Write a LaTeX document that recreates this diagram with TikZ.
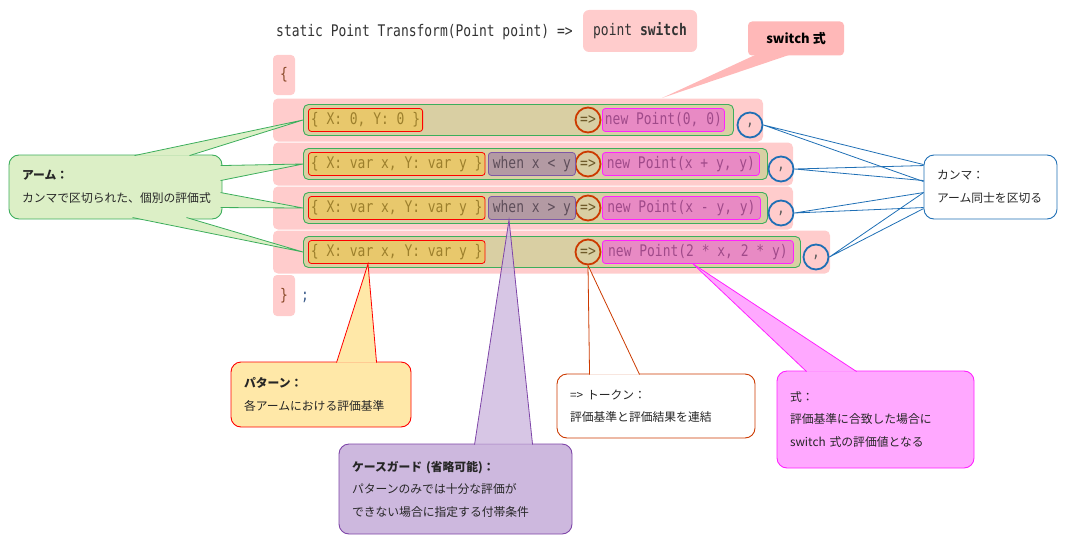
\documentclass[tikz,border=0pt]{standalone}
\usepackage{fontspec}
\usetikzlibrary{calc}
\setmainfont{Noto Sans CJK JP}
\newfontfamily\codefont[FakeStretch=0.81]{DejaVu Sans Mono}
\newcommand{\codefmt}{\codefont\fontsize{16}{18}\selectfont\frenchspacing}
\newcommand{\notefont}{\fontsize{11.8}{22.5}\selectfont}
\definecolor{bandpink}{HTML}{FFCCCC}
\definecolor{armtan}{HTML}{D9CFA3}
\definecolor{armgreen}{HTML}{3DAE5C}
\definecolor{patfill}{HTML}{E8C86C}
\definecolor{pattext}{HTML}{9C7F2C}
\definecolor{whenfill}{HTML}{B39AA3}
\definecolor{whenedge}{HTML}{7E57A6}
\definecolor{whentext}{HTML}{5E4E5A}
\definecolor{exprfill}{HTML}{E88AC4}
\definecolor{exprtext}{HTML}{A04A8A}
\definecolor{expredge}{HTML}{FF22FF}
\definecolor{tokred}{HTML}{CC3A00}
\definecolor{toktext}{HTML}{6E5A2A}
\definecolor{commablue}{HTML}{1F6FB5}
\definecolor{callpink}{HTML}{FFB8B8}
\definecolor{armnote}{HTML}{DCEFC6}
\definecolor{patnote}{HTML}{FFE8A8}
\definecolor{guardnote}{HTML}{CDB8DE}
\definecolor{guardedge}{HTML}{7E45A8}
\definecolor{exprnote}{HTML}{FFA8FF}
\definecolor{codegray}{HTML}{333333}
\definecolor{bracebrown}{HTML}{8B4A2A}
\definecolor{semiblue}{HTML}{3A5A8A}
\begin{document}
\begin{tikzpicture}[x=1pt, y=-1pt,
	band/.style={fill=bandpink, rounded corners=5},
	armbox/.style={draw=armgreen, fill=armtan, rounded corners=5, line width=0.9, minimum height=31, inner sep=0},
	patbox/.style={draw=red, fill=patfill, text=pattext, rounded corners=3, line width=0.8, minimum height=23, inner xsep=2.5, inner ysep=0, font=\codefmt},
	whenbox/.style={draw=whenedge, fill=whenfill, text=whentext, rounded corners=3, line width=0.8, minimum height=23, inner xsep=2.5, inner ysep=0, font=\codefmt},
	exprbox/.style={draw=expredge, fill=exprfill, text=exprtext, rounded corners=3, line width=0.8, minimum height=23, inner xsep=2.5, inner ysep=0, font=\codefmt},
	arrowtok/.style={circle, draw=tokred, line width=1.8, minimum size=25, inner sep=0, text=toktext, font=\codefmt},
	commatok/.style={circle, draw=commablue, line width=1.8, minimum size=25, inner sep=0, text=black!65, font=\codefmt},
	callout/.style={rounded corners=10, line width=0.9, align=left, inner xsep=13, inner ysep=0, text=black!85, font=\notefont}]
	\useasboundingbox (0,0) rectangle (1067,543);
	
	% Header line
	\node[anchor=west, inner sep=0, text=codegray, font=\codefmt] (sig) at (276,32) {static Point Transform(Point point) =>};
	\node[fill=bandpink, rounded corners=6, minimum width=114, minimum height=42, text=codegray, font=\codefmt] (subject) at (640,31) {point \textbf{switch}};
	\node[fill=callpink, rounded corners=4, minimum width=96, minimum height=34, font=\fontsize{13}{15}\selectfont\bfseries] (switchnote) at (796,38.5) {switch 式};
	\coordinate (bandtop) at (662,98);
	\fill[callpink] ($(switchnote.south west)+(8,-1)$) -- (bandtop) -- ($(switchnote.south west)+(42,-1)$) -- cycle;
	\node[fill=bandpink, rounded corners=4, minimum width=22, minimum height=40, text=bracebrown, font=\codefmt] (open) at (284,75) {\{};
	
	% Arms
	\foreach \n/\y/\bw/\aw/\cx in {1/120/763/430/750, 2/164/793/464/781, 3/208/793/464/781, 4/252/830/497/816} {
		\fill[band] (273,\y-21.5) rectangle (\bw,\y+21.5);
		\node[armbox, minimum width=\aw, anchor=west] (arm\n) at (303,\y) {};
		\node[arrowtok] (tok\n) at (588,\y) {=>};
		\node[commatok] (comma\n) at (\cx,\y+5) {,};
	}
	\node[patbox, anchor=west] (pat1) at (308,120) {\{ X: 0, Y: 0 \}};
	\node[patbox, anchor=west] (pat2) at (308,164) {\{ X: var x, Y: var y \}};
	\node[patbox, anchor=west] (pat3) at (308,208) {\{ X: var x, Y: var y \}};
	\node[patbox, anchor=west] (pat4) at (308,252) {\{ X: var x, Y: var y \}};
	\node[whenbox, anchor=west, minimum width=87] (when2) at (488,164) {when x < y};
	\node[whenbox, anchor=west, minimum width=87] (when3) at (488,208) {when x > y};
	\node[exprbox, anchor=west] (expr1) at (602,120) {new Point(0, 0)};
	\node[exprbox, anchor=west, minimum width=157] (expr2) at (602,164) {new Point(x + y, y)};
	\node[exprbox, anchor=west, minimum width=158] (expr3) at (602,208) {new Point(x - y, y)};
	\node[exprbox, anchor=west, minimum width=191] (expr4) at (602,252) {new Point(2 * x, 2 * y)};
	\node[fill=bandpink, rounded corners=4, minimum width=22, minimum height=41, text=bracebrown, font=\codefmt] (close) at (284,295.5) {\}};
	\node[text=semiblue, font=\codefmt] (semi) at (305,297) {;};
	
	% Arm note
	\node[callout, draw=armgreen, fill=armnote, minimum width=213, minimum height=64, text width=187] (armnote) at (115.5,187) {\textbf{アーム：}\\カンマで区切られた、個別の評価式};
	\foreach \n/\ax/\ay/\bx/\by in {1/126/1/181/1, 2/212/11/212/26, 3/212/38/212/53, 4/124/63/178/63} {
		\fill[armnote] ($(armnote.north west)+(\ax,\ay)$) -- (arm\n.west) -- ($(armnote.north west)+(\bx,\by)$) -- cycle;
		\draw[armgreen, line width=0.8] ($(armnote.north west)+(\ax,\ay)$) -- (arm\n.west) -- ($(armnote.north west)+(\bx,\by)$);
	}
	
	% Comma note
	\node[callout, draw=commablue, fill=white, minimum width=133, minimum height=64, text width=107] (commanote) at (990.5,187) {カンマ：\\アーム同士を区切る};
	\foreach \n/\ay/\by in {1/10/27, 2/11/26, 3/38/53, 4/38/54}
		\draw[commablue, line width=0.8] ($(commanote.north west)+(0,\ay)$) -- (comma\n.east) -- ($(commanote.north west)+(0,\by)$);
	
	% Pattern note
	\node[callout, draw=red, fill=patnote, minimum width=180, minimum height=65, text width=154] (patnote) at (321,394.5) {\textbf{パターン：}\\各アームにおける評価基準};
	\fill[patnote] ($(patnote.north west)+(106,1)$) -- ($(pat4.south west)+(60,0)$) -- ($(patnote.north west)+(146,1)$) -- cycle;
	\draw[red, line width=0.8] ($(patnote.north west)+(106,1)$) -- ($(pat4.south west)+(60,0)$) -- ($(patnote.north west)+(146,1)$);
	
	% Guard note
	\node[callout, draw=guardedge, fill=guardnote, minimum width=233, minimum height=90, text width=207] (guardnote) at (455.5,489) {\textbf{ケースガード (省略可能)：}\\パターンのみでは十分な評価が\\できない場合に指定する付帯条件};
	\fill[guardnote, fill opacity=0.8] ($(guardnote.north west)+(136,1)$) -- ($(when3.south west)+(21,0)$) -- ($(guardnote.north west)+(194,1)$) -- cycle;
	\draw[guardedge, line width=0.8] ($(guardnote.north west)+(136,1)$) -- ($(when3.south west)+(21,0)$) -- ($(guardnote.north west)+(194,1)$);
	
	% Token note
	\node[callout, draw=tokred, fill=white, minimum width=198, minimum height=64, text width=172] (toknote) at (656,406) {=> トークン：\\評価基準と評価結果を連結};
	\fill[white] ($(toknote.north west)+(33,1)$) -- (tok4.south) -- ($(toknote.north west)+(83,1)$) -- cycle;
	\draw[tokred, line width=0.8] ($(toknote.north west)+(33,1)$) -- (tok4.south) -- ($(toknote.north west)+(83,1)$);
	
	% Expression note
	\node[callout, draw=expredge, fill=exprnote, minimum width=197, minimum height=97, text width=171] (exprnote) at (875.5,419.5) {式：\\評価基準に合致した場合に\\switch 式の評価値となる};
	\fill[exprnote] ($(exprnote.north west)+(30,1)$) -- ($(expr4.south west)+(91,0)$) -- ($(exprnote.north west)+(80,1)$) -- cycle;
	\draw[expredge, line width=0.8] ($(exprnote.north west)+(30,1)$) -- ($(expr4.south west)+(91,0)$) -- ($(exprnote.north west)+(80,1)$);
\end{tikzpicture}
\end{document}
